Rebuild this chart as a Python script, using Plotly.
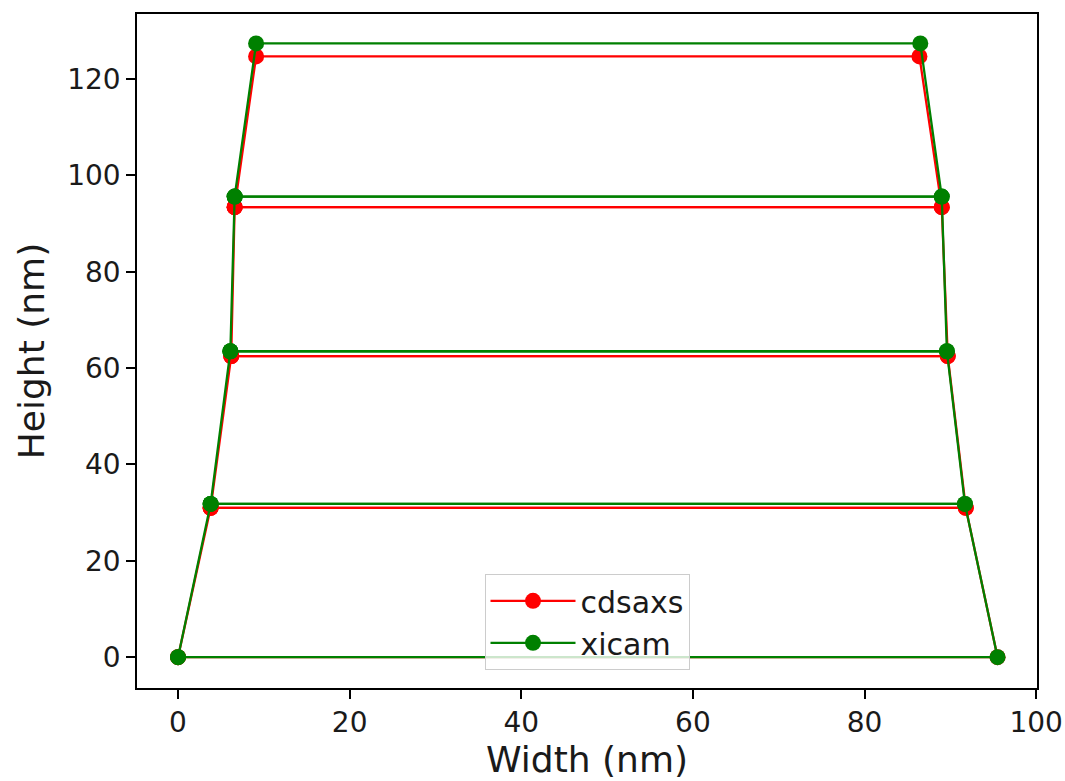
import plotly.graph_objects as go

# Layer heights (nm) and left/right edge positions (nm)
cdsaxs_height = [0.0, 31.0, 62.5, 93.4, 124.7]
cdsaxs_left = [0.0, 3.8, 6.2, 6.6, 9.1]
cdsaxs_right = [95.5, 91.8, 89.7, 89.0, 86.4]

xicam_height = [0.0, 31.8, 63.5, 95.6, 127.4]
xicam_left = [0.0, 3.8, 6.1, 6.6, 9.1]
xicam_right = [95.5, 91.7, 89.6, 89.0, 86.5]

x_ticks = [0, 20, 40, 60, 80, 100]
y_ticks = [0, 20, 40, 60, 80, 100, 120]


def stack_path(h, left, right):
    xs, ys = [], []
    for i in range(len(h) - 1):
        xs += [left[i], left[i + 1], right[i + 1], right[i], left[i], None]
        ys += [h[i], h[i + 1], h[i + 1], h[i], h[i], None]
    return xs, ys


fig = go.Figure()
for name, h, l, r, col in [
    ("cdsaxs", cdsaxs_height, cdsaxs_left, cdsaxs_right, "#ff0000"),
    ("xicam", xicam_height, xicam_left, xicam_right, "#008000"),
]:
    xs, ys = stack_path(h, l, r)
    fig.add_trace(go.Scatter(
        x=xs, y=ys, mode="lines+markers", name=name,
        line=dict(color=col, width=2.3),
        marker=dict(color=col, size=16),
        connectgaps=False,
    ))

axis_common = dict(
    showgrid=False, zeroline=False, showline=True, linecolor="black",
    linewidth=1.5, mirror=True, ticks="outside", ticklen=9, tickwidth=1.5,
    tickcolor="black", automargin=False,
    tickfont=dict(size=28, color="#1a1a1a", family="DejaVu Sans"),
)

fig.update_layout(
    width=1065, height=781,
    margin=dict(l=137, r=28, t=14, b=93),
    paper_bgcolor="white", plot_bgcolor="white",
    font=dict(family="DejaVu Sans", color="#1a1a1a"),
    xaxis=dict(range=[-4.78, 100.1], tickvals=x_ticks,
               title=dict(text="Width (nm)", font=dict(size=36), standoff=6),
               **axis_common),
    yaxis=dict(range=[-6.4, 133.5], tickvals=y_ticks,
               title=dict(text="Height (nm)", font=dict(size=36), standoff=12),
               **axis_common),
    legend=dict(x=0.5, xanchor="center", y=0.027, yanchor="bottom",
                bgcolor="rgba(255,255,255,0.8)", bordercolor="#cccccc",
                borderwidth=1, font=dict(size=30, color="#1a1a1a"),
                itemwidth=85),
    showlegend=True,
)

fig.write_html(
    "out.html",
    config={"displayModeBar": False},
    post_script="document.body.style.margin='0';document.body.style.overflow='hidden';",
)
